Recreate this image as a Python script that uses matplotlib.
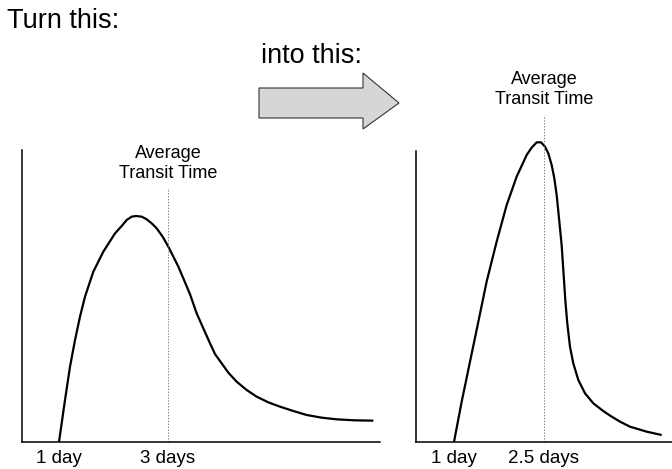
import matplotlib
matplotlib.use('Agg')
import matplotlib.pyplot as plt
from matplotlib.patches import Polygon

plt.rcParams['font.family'] = ['Liberation Sans', 'DejaVu Sans']

# before: transit time curve (days, relative level)
before_days = [1.0, 1.110, 1.202, 1.294, 1.385, 1.477, 1.630, 1.813, 2.028, 2.150,
               2.242, 2.333, 2.413, 2.517, 2.609, 2.700, 2.792, 2.902, 3.006,
               3.190, 3.281, 3.404, 3.526, 3.648, 3.771, 3.862, 3.985, 4.107,
               4.260, 4.443, 4.627, 4.841, 5.055, 5.300, 5.544, 5.820, 6.095,
               6.431, 6.768]
before_vals = [0, 14.38, 25.8, 34.93, 42.92, 49.77, 58.33, 65.18, 71.46, 73.97,
               76.03, 77.17, 77.40, 77.17, 76.26, 74.89, 73.17, 70.32, 66.89,
               60.05, 56.05, 50.6, 44.06, 38.93, 33.79, 30.14, 26.94, 23.74,
               20.66, 17.81, 15.53, 13.58, 12.10, 10.62, 9.25, 8.33, 7.76,
               7.42, 7.31]
before_avg = 3.0
before_ticks = [1, 3]
before_labels = ['1 day', '3 days']

# after
after_days = [1.0, 1.128, 1.267, 1.406, 1.544, 1.711, 1.878, 2.044, 2.211, 2.294,
              2.378, 2.45, 2.517, 2.572, 2.628, 2.672, 2.711, 2.75, 2.794, 2.833,
              2.855, 2.888, 2.933, 2.988, 3.072, 3.183, 3.322, 3.488, 3.6,
              3.767, 3.933, 4.211, 4.461]
after_vals = [0, 13.81, 27.51, 41.21, 54.91, 68.61, 81.16, 90.87, 98.29, 100.80,
              102.63, 102.63, 101.14, 98.86, 94.86, 90.30, 84.59, 76.60, 67.47,
              55.48, 48.63, 40.65, 32.64, 26.95, 21.23, 16.68, 13.25, 10.6,
              9.05, 6.96, 5.25, 3.54, 2.40]
after_avg = 2.5
after_ticks = [1, 2.5]
after_labels = ['1 day', '2.5 days']

W, H = 672, 469
fig = plt.figure(figsize=(W / 100, H / 100), dpi=100)


def panel(rect, days, vals, avg, ticks, labels, xlim, ylim, vtop, ttop):
    ax = fig.add_axes(rect)
    ax.plot(days, vals, color='black', lw=1.6, clip_on=False,
            solid_joinstyle='round', solid_capstyle='butt')
    ax.vlines(avg, 0, vtop, colors='#888888', lw=0.7, linestyles=(0, (1.5, 1.5)),
              clip_on=False)
    ax.set_xlim(*xlim)
    ax.set_ylim(*ylim)
    for s in ['top', 'right']:
        ax.spines[s].set_visible(False)
    for s in ['left', 'bottom']:
        ax.spines[s].set_linewidth(1.1)
    ax.set_yticks([])
    ax.set_xticks(ticks)
    ax.set_xticklabels(labels, fontsize=13.5)
    ax.tick_params(axis='x', length=0, pad=6)
    ax.text(avg, ttop, 'Average\nTransit Time', ha='center', va='baseline',
            fontsize=13, linespacing=1.25)
    return ax


panel([22 / W, 1 - 442 / H, 358 / W, 292 / H], before_days, before_vals,
      before_avg, before_ticks, before_labels, (0.321, 6.89), (0, 100), 87, 90.4)
panel([416 / W, 1 - 442 / H, 256 / W, 291 / H], after_days, after_vals,
      after_avg, after_ticks, after_labels, (0.367, 4.633), (0, 99.66), 112, 115.8)

# overlay in pixel coords for headings and arrow
ov = fig.add_axes([0, 0, 1, 1])
ov.set_xlim(0, W)
ov.set_ylim(H, 0)
ov.axis('off')
ov.text(7, 28, 'Turn this:', fontsize=19.5, ha='left', va='baseline')
ov.text(261, 63, 'into this:', fontsize=19.5, ha='left', va='baseline')
arrow = Polygon([(259, 88), (363, 88), (363, 73), (399, 103), (363, 129),
                 (363, 118), (259, 118)], closed=True, facecolor='#d6d6d6',
                edgecolor='#333333', lw=0.8)
ov.add_patch(arrow)

fig.savefig('out.png', dpi=100)
